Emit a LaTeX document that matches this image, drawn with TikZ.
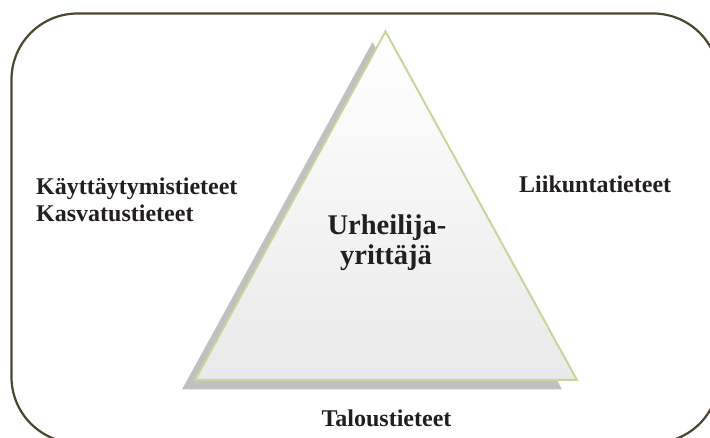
\documentclass[tikz,border=0pt]{standalone}
\usepackage{fontspec}
\setmainfont{Liberation Serif}
\begin{document}
\begin{tikzpicture}[x=1pt,y=-1pt,
  frame/.style={draw=frameBrown,line width=2.2pt,rounded corners=66pt},
  pyramid/.style={draw=pyrGreen,line width=2pt,line join=miter,top color=white,bottom color=pyrFill},
  pyrshadow/.style={fill=shadowGray},
  sidelabel/.style={font=\bfseries\fontsize{24}{27}\selectfont,text=labelInk,inner sep=0pt},
  centerlabel/.style={font=\bfseries\fontsize{28.5}{31}\selectfont,text=labelInk,inner sep=0pt,align=center}]
\definecolor{frameBrown}{HTML}{4B4630}
\definecolor{pyrGreen}{HTML}{C3D69B}
\definecolor{pyrFill}{HTML}{E9E9E9}
\definecolor{shadowGray}{HTML}{C0C0C0}
\definecolor{labelInk}{HTML}{231F20}
\useasboundingbox (0,0) rectangle (710,438);
\clip (0,0) rectangle (710,438);
% outer rounded frame, partly running off the page
\draw[frame] (11.5,13.5) rectangle (719,443);
% pyramid corners
\coordinate (bl) at (195,380);
\coordinate (top) at (385.5,31.5);
\coordinate (br) at (577,380);
% drop shadow
\fill[pyrshadow] ([shift={(-13,9.5)}]bl) -- ([shift={(-13,10.5)}]top) -- ([shift={(-15,9.5)}]br) -- cycle;
% pyramid
\draw[pyramid] (bl) -- (top) -- (br) -- cycle;
% labels
\node[sidelabel,anchor=base west] (kay) at (36,195) {Käyttäytymistieteet};
\node[sidelabel,anchor=base west] (kas) at (36,222) {Kasvatustieteet};
\node[sidelabel,anchor=base west] (lii) at (519,193) {Liikuntatieteet};
\node[sidelabel,anchor=base] (tal) at (386.5,427) {Taloustieteet};
\node[centerlabel,anchor=base] (urh) at (387,235) {Urheilija-};
\node[centerlabel,anchor=base] (yri) at (386,265) {yrittäjä};
\end{tikzpicture}
\end{document}
